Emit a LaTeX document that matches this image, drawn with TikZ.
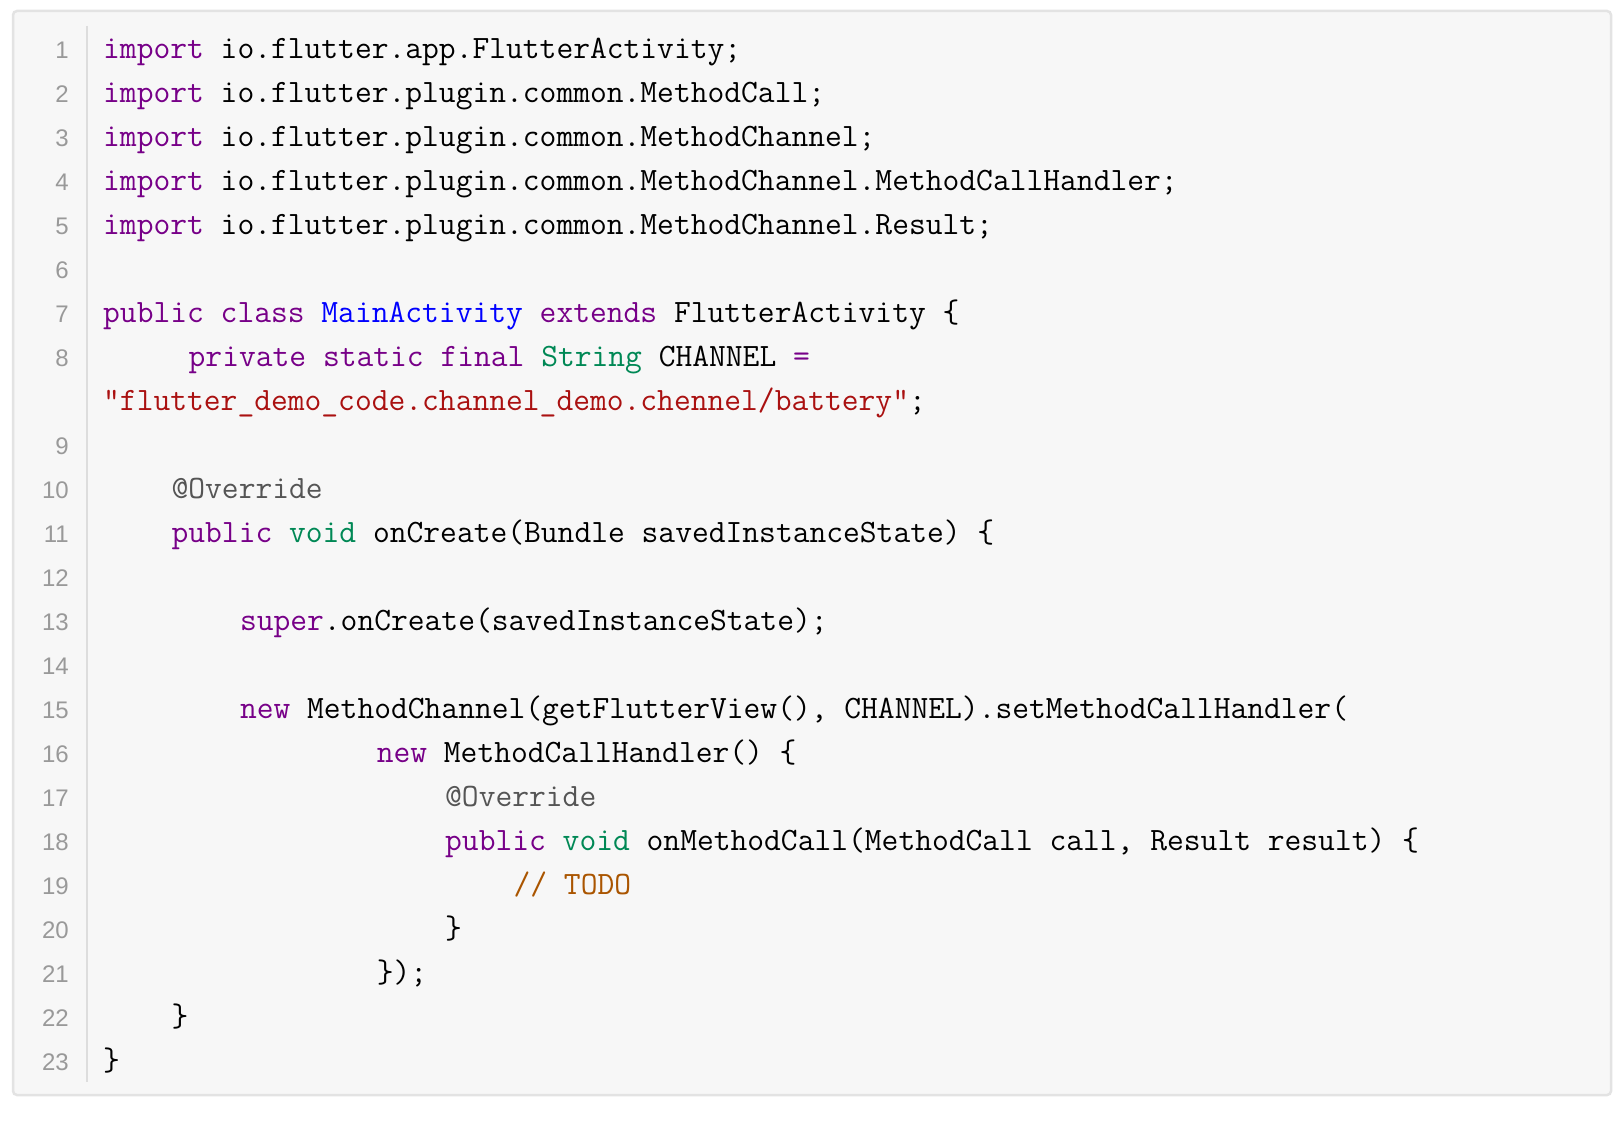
\documentclass[tikz,border=0pt]{standalone}
\usepackage{fontspec}
\newfontfamily\code{Latin Modern Mono}
\newfontfamily\nums{Liberation Sans}
\definecolor{kw}{HTML}{770088}
\definecolor{def}{HTML}{0000FF}
\definecolor{ty}{HTML}{008855}
\definecolor{str}{HTML}{AA1111}
\definecolor{cmt}{HTML}{AA5500}
\definecolor{meta}{HTML}{555555}
\definecolor{bg}{HTML}{F7F7F7}
\definecolor{bd}{HTML}{E3E3E3}
\definecolor{gut}{HTML}{DDDDDD}
\definecolor{num}{HTML}{999999}
\newcommand{\K}[1]{\textcolor{kw}{#1}}
\newcommand{\D}[1]{\textcolor{def}{#1}}
\newcommand{\T}[1]{\textcolor{ty}{#1}}
\newcommand{\Sq}[1]{\textcolor{str}{#1}}
\newcommand{\C}[1]{\textcolor{cmt}{#1}}
\newcommand{\M}[1]{\textcolor{meta}{#1}}
\tikzset{codeline/.style={anchor=base west,inner sep=0pt,font=\code\fontsize{32.6}{34}\selectfont},
  lnum/.style={anchor=base east,inner sep=0pt,text=num,font=\nums\fontsize{24}{28}\selectfont}}
\newcommand{\cl}[4]{\node[codeline] (c#1) at ({103+#2*17.1},{59+#1*43.96}) {#3};
  \ifx&#4&\else\node[lnum] (n#1) at (69,{59+#1*43.96}) {#4};\fi}
\begin{document}
\begin{tikzpicture}[x=1pt,y=-1pt]
\useasboundingbox (0,0) rectangle (1622,1124);
\fill[white] (0,0) rectangle (1622,1124);
\draw[bd,line width=2.5pt,fill=bg,rounded corners=4pt] (13,11) rectangle (1611,1095);
\draw[gut,line width=1.5pt] (87,26) -- (87,1082);
\cl{0}{0}{\K{import} io.flutter.app.FlutterActivity;}{1}
\cl{1}{0}{\K{import} io.flutter.plugin.common.MethodCall;}{2}
\cl{2}{0}{\K{import} io.flutter.plugin.common.MethodChannel;}{3}
\cl{3}{0}{\K{import} io.flutter.plugin.common.MethodChannel.MethodCallHandler;}{4}
\cl{4}{0}{\K{import} io.flutter.plugin.common.MethodChannel.Result;}{5}
\node[lnum] (n5) at (69,{59+5*43.96}) {6};
\cl{6}{0}{\K{public} \K{class} \D{MainActivity} \K{extends} FlutterActivity \{}{7}
\cl{7}{5}{\K{private} \K{static} \K{final} \T{String} CHANNEL \K{=}}{8}
\cl{8}{0}{\Sq{"flutter\_demo\_code.channel\_demo.chennel/battery"};}{}
\node[lnum] (n9) at (69,{59+9*43.96}) {9};
\cl{10}{4}{\M{@Override}}{10}
\cl{11}{4}{\K{public} \T{void} onCreate(Bundle savedInstanceState) \{}{11}
\node[lnum] (n12) at (69,{59+12*43.96}) {12};
\cl{13}{8}{\K{super}.onCreate(savedInstanceState);}{13}
\node[lnum] (n14) at (69,{59+14*43.96}) {14};
\cl{15}{8}{\K{new} MethodChannel(getFlutterView(), CHANNEL).setMethodCallHandler(}{15}
\cl{16}{16}{\K{new} MethodCallHandler() \{}{16}
\cl{17}{20}{\M{@Override}}{17}
\cl{18}{20}{\K{public} \T{void} onMethodCall(MethodCall call, Result result) \{}{18}
\cl{19}{24}{\C{// TODO}}{19}
\cl{20}{20}{\}}{20}
\cl{21}{16}{\});}{21}
\cl{22}{4}{\}}{22}
\cl{23}{0}{\}}{23}
\end{tikzpicture}
\end{document}
